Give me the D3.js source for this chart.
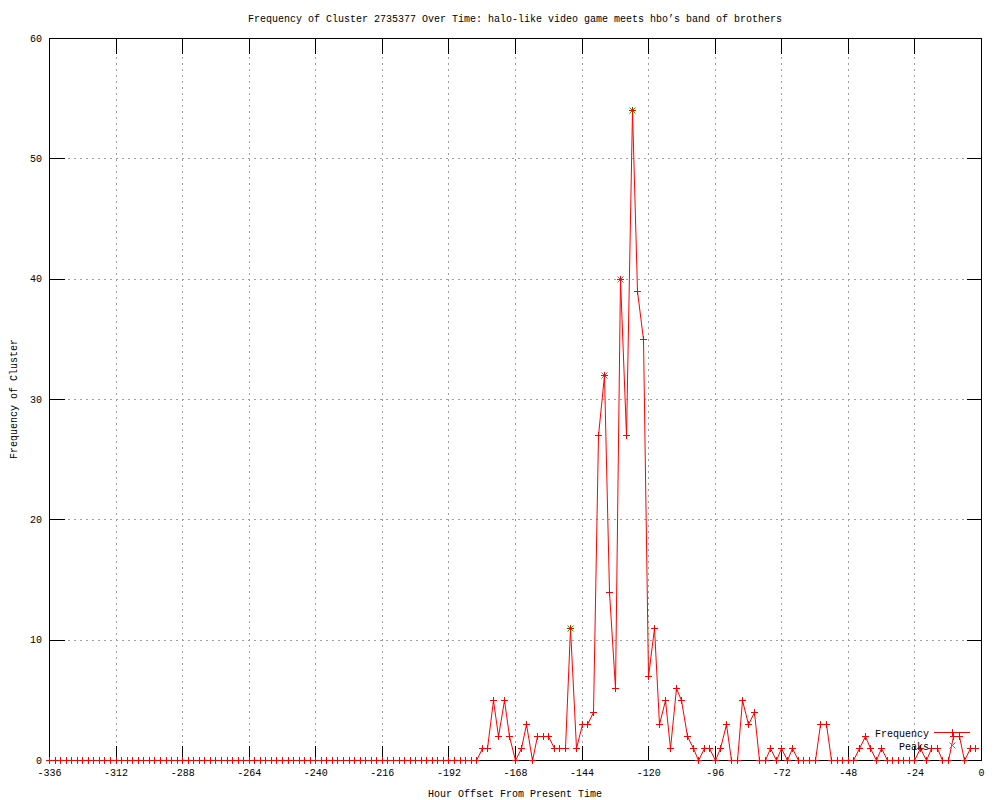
<!DOCTYPE html>
<html>
<head>
<meta charset="utf-8">
<script src="https://cdn.jsdelivr.net/npm/d3@7"></script>
<style>
  html, body { margin: 0; padding: 0; background: #fff; }
  svg { display: block; }
  text { font-family: "Liberation Mono", "DejaVu Sans Mono", monospace; font-size: 10px; fill: #000; }
</style>
</head>
<body>
<svg id="chart" width="1000" height="800"></svg>
<script>
// ---- data ----
const hours = [
  -336,-334,-332,-330,-328,-326,-324,-322,-320,-318,-316,-314,-312,-310,-308,-306,-304,-302,-300,-298,
  -296,-294,-292,-290,-288,-286,-284,-282,-280,-278,-276,-274,-272,-270,-268,-266,-264,-262,-260,-258,
  -256,-254,-252,-250,-248,-246,-244,-242,-240,-238,-236,-234,-232,-230,-228,-226,-224,-222,-220,-218,
  -216,-214,-212,-210,-208,-206,-204,-202,-200,-198,-196,-194,-192,-190,-188,-186,-184,
  -182,-180,-178,-176,-174,-172,-170,-168,
  -166,-164,-162,-160,-158,-156,-154,-152,
  -150,-148,-146,-144,-142,-140,-138,-136,
  -134,-132,-130,-128,-126,-124,-122,-120,
  -118,-116,-114,-112,-110,-108,-106,-104,
  -102,-100,-98,-96,-94,-92,-90,-88,
  -86,-84,-82,-80,-78,-76,-74,-72,
  -70,-68,-66,-64,-62,-60,-58,-56,
  -54,-52,-50,-48,-46,-44,-42,-40,
  -38,-36,-34,-32,-30,-28,-26,-24,
  -22,-20,-18,-16,-14,-12,-10,-8,
  -6,-4,-2
];
const frequency = [
  0,0,0,0,0,0,0,0,0,0,0,0,0,0,0,0,0,0,0,0,
  0,0,0,0,0,0,0,0,0,0,0,0,0,0,0,0,0,0,0,0,
  0,0,0,0,0,0,0,0,0,0,0,0,0,0,0,0,0,0,0,0,
  0,0,0,0,0,0,0,0,0,0,0,0,0,0,0,0,0,
  0,1,1,5,2,5,2,0,
  1,3,0,2,2,2,1,1,
  1,11,1,3,3,4,27,32,
  14,6,40,27,54,39,35,7,
  11,3,5,1,6,5,2,1,
  0,1,1,0,1,3,0,0,
  5,3,4,0,0,1,0,1,
  0,1,0,0,0,0,3,3,
  0,0,0,0,0,1,2,1,
  0,1,0,0,0,0,0,0,
  1,0,1,1,0,0,2,2,
  0,1,1
];
const peakHours = [-148, -136, -130, -126];
const peakValues = [11, 32, 40, 54];

const xTicks = [-336,-312,-288,-264,-240,-216,-192,-168,-144,-120,-96,-72,-48,-24,0];
const yTicks = [0,10,20,30,40,50,60];

const titleText = "Frequency of Cluster 2735377 Over Time: halo-like video game meets hbo\u2019s band of brothers";
const xLabel = "Hour Offset From Present Time";
const yLabel = "Frequency of Cluster";
const seriesNames = ["Frequency", "Peaks"];

// ---- layout ----
const L = 49, R = 981, T = 38, B = 760;
const tickLen = 15;
const svg = d3.select("#chart");

const x = d3.scaleLinear().domain([-336, 0]).range([L, R]);
const y = d3.scaleLinear().domain([0, 60]).range([B, T]);
const px = v => Math.round(v) + 0.5;

// grid
const grid = svg.append("g").attr("shape-rendering", "crispEdges").attr("stroke", "#a0a0a0").attr("stroke-dasharray", "2,4");
grid.selectAll("line.gx").data(xTicks.slice(1, -1)).join("line").attr("class", "gx")
  .attr("x1", d => px(x(d))).attr("x2", d => px(x(d)))
  .attr("y1", T + 0.5).attr("y2", B + 0.5);
grid.selectAll("line.gy").data(yTicks.slice(1, -1)).join("line").attr("class", "gy")
  .attr("y1", d => px(y(d))).attr("y2", d => px(y(d)))
  .attr("x1", L + 0.5).attr("x2", R + 0.5);

// tick labels via d3 axes
function styleAxis(g) {
  g.select(".domain").remove();
  g.selectAll(".tick line").remove();
  g.selectAll(".tick text").style("font-family", '"Liberation Mono", "DejaVu Sans Mono", monospace').style("font-size", "10px").attr("fill", "#000");
}
const axB = svg.append("g").attr("transform", `translate(0,${B})`)
  .call(d3.axisBottom(x).tickValues(xTicks).tickSize(0).tickPadding(9).tickFormat(d => String(d)));
styleAxis(axB);
const axL = svg.append("g").attr("transform", `translate(${L},0)`)
  .call(d3.axisLeft(y).tickValues(yTicks).tickSize(0).tickPadding(7).tickFormat(d => String(d)));
styleAxis(axL);

// tick marks (inward, mirrored on all four sides)
const ticks = svg.append("g").attr("stroke", "#000").attr("shape-rendering", "crispEdges");
ticks.selectAll("line.tb").data(xTicks).join("line").attr("class", "tb")
  .attr("x1", d => px(x(d))).attr("x2", d => px(x(d))).attr("y1", B + 0.5).attr("y2", B + 0.5 - tickLen);
ticks.selectAll("line.tt").data(xTicks).join("line").attr("class", "tt")
  .attr("x1", d => px(x(d))).attr("x2", d => px(x(d))).attr("y1", T + 0.5).attr("y2", T + 0.5 + tickLen);
ticks.selectAll("line.tl").data(yTicks).join("line").attr("class", "tl")
  .attr("y1", d => px(y(d))).attr("y2", d => px(y(d))).attr("x1", L + 0.5).attr("x2", L + 0.5 + tickLen);
ticks.selectAll("line.tr").data(yTicks).join("line").attr("class", "tr")
  .attr("y1", d => px(y(d))).attr("y2", d => px(y(d))).attr("x1", R + 0.5).attr("x2", R + 0.5 - tickLen);

// border
svg.append("rect").attr("x", L + 0.5).attr("y", T + 0.5).attr("width", R - L).attr("height", B - T)
  .attr("fill", "none").attr("stroke", "#000").attr("shape-rendering", "crispEdges");

// data
const pts = hours.map((h, i) => ({h, v: frequency[i]}));
const line = d3.line().x(d => px(x(d.h))).y(d => px(y(d.v)));
svg.append("path").datum(pts).attr("d", line)
  .attr("fill", "none").attr("stroke", "#ff0000").attr("stroke-width", 1);

const plusPath = (cx, cy, s) => `M${cx - s},${cy}H${cx + s}M${cx},${cy - s}V${cy + s}`;
const crossPath = (cx, cy, s) => `M${cx - s},${cy - s}L${cx + s},${cy + s}M${cx - s},${cy + s}L${cx + s},${cy - s}`;

svg.append("g").selectAll("path").data(pts).join("path")
  .attr("d", d => plusPath(px(x(d.h)), px(y(d.v)), 3.5))
  .attr("stroke", "#ff0000").attr("stroke-width", 1).attr("fill", "none")
  .attr("shape-rendering", "crispEdges");

const peaks = peakHours.map((h, i) => ({h, v: peakValues[i]}));
svg.append("g").selectAll("path").data(peaks).join("path")
  .attr("d", d => crossPath(px(x(d.h)), px(y(d.v)), 3))
  .attr("stroke", "#00c000").attr("stroke-width", 1).attr("fill", "none");
svg.append("g").selectAll("path").data(peaks).join("path")
  .attr("d", d => plusPath(px(x(d.h)), px(y(d.v)), 2))
  .attr("stroke", "#ff0000").attr("stroke-width", 1).attr("fill", "none")
  .attr("shape-rendering", "crispEdges");

// texts
svg.append("text").attr("x", 515).attr("y", 22).attr("text-anchor", "middle").text(titleText);
svg.append("text").attr("x", 515).attr("y", 797).attr("text-anchor", "middle").text(xLabel);
svg.append("text").attr("transform", `translate(17,399) rotate(-90)`).attr("text-anchor", "middle").text(yLabel);

// legend
const key = svg.append("g");
key.append("text").attr("x", 929).attr("y", 736.5).attr("text-anchor", "end").text(seriesNames[0]);
key.append("text").attr("x", 929).attr("y", 749.5).attr("text-anchor", "end").text(seriesNames[1]);
key.append("line").attr("x1", 934).attr("x2", 970).attr("y1", 732.5).attr("y2", 732.5)
  .attr("stroke", "#ff0000").attr("shape-rendering", "crispEdges");
key.append("path").attr("d", plusPath(952.5, 732.5, 3.5)).attr("stroke", "#ff0000").attr("fill", "none").attr("shape-rendering", "crispEdges");
key.append("path").attr("d", crossPath(952.5, 745.5, 3)).attr("stroke", "#00c000").attr("fill", "none");
</script>
</body>
</html>
